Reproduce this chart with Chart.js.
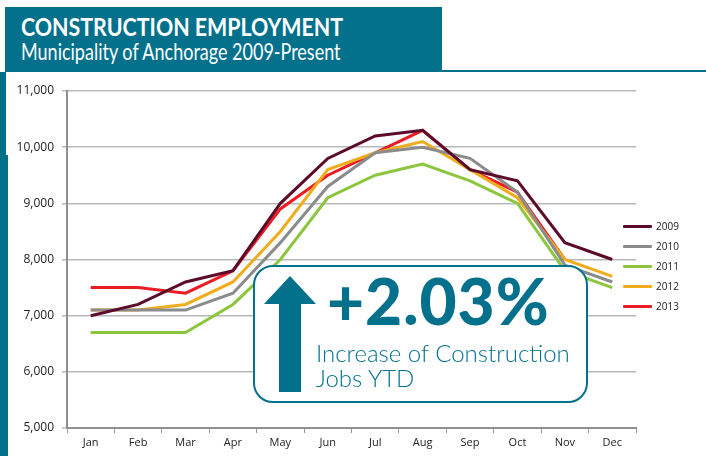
<!DOCTYPE html>
<html>
<head>
<meta charset="utf-8">
<script src="https://cdn.jsdelivr.net/npm/chart.js@4.4.0/dist/chart.umd.min.js"></script>
<style>
  html, body { margin: 0; padding: 0; background: #fff; }
  #wrap { position: relative; width: 706px; height: 456px; overflow: hidden; font-family: 'Open Sans', sans-serif; }
  #chart { position: absolute; left: 0; top: 0; }
  .teal { background: #03718c; position: absolute; }
  #title { position: absolute; left: 21px; top: 10px; color: #fff; font-family: Lato, sans-serif; font-weight: 700; font-size: 25px; line-height: 32px; transform: scaleX(0.855); transform-origin: left top; white-space: nowrap; }
  #subtitle { position: absolute; left: 21px; top: 38px; color: #fff; font-family: Lato, sans-serif; font-weight: 400; font-size: 22.5px; line-height: 28px; transform: scaleX(0.8); transform-origin: left top; white-space: nowrap; }
  #legend { position: absolute; left: 623px; top: 216px; }
  .lg { height: 20px; display: flex; align-items: center; font-family: 'Open Sans', sans-serif; font-size: 10px; color: #222; }
  .lg i { display: inline-block; width: 29px; height: 3px; margin-right: 4px; border-radius: 1px; }
  #callout { position: absolute; left: 253px; top: 265px; width: 331px; height: 134px; border: 2.5px solid #03718c; border-radius: 20px; background: #fff; }
  #callout svg { position: absolute; left: 9px; top: 9px; }
  #big { position: absolute; left: 72px; top: -6px; color: #03718c; font-family: Lato, sans-serif; font-weight: 900; font-size: 64px; line-height: 80px; letter-spacing: 1px; }
  #small { position: absolute; left: 61px; top: 73px; color: #03718c; font-family: Lato, sans-serif; font-weight: 300; font-size: 24px; line-height: 25px; }
</style>
</head>
<body>
<div id="wrap">
  <canvas id="chart" width="706" height="456"></canvas>
  <div class="teal" style="left:5px;top:7px;width:437px;height:64px"></div>
  <div class="teal" style="left:5px;top:70px;width:701px;height:2px"></div>
  <div class="teal" style="left:0;top:72px;width:6px;height:83px"></div>
  <div class="teal" style="left:0;top:155px;width:8px;height:301px"></div>
  <div id="title">CONSTRUCTION EMPLOYMENT</div>
  <div id="subtitle">Municipality of Anchorage 2009-Present</div>
  <div id="legend"></div>
  <div id="callout">
    <svg width="52" height="118" viewBox="0 0 52 118">
      <polygon points="26,0 52,28 37,28 37,116 15,116 15,28 0,28" fill="#03718c"/>
    </svg>
    <div id="big">+2.03%</div>
    <div id="small">Increase of Construction<br>Jobs YTD</div>
  </div>
</div>
<script>
// ── Data
const months = ['Jan', 'Feb', 'Mar', 'Apr', 'May', 'Jun', 'Jul', 'Aug', 'Sep', 'Oct', 'Nov', 'Dec'];
const years = ['2009', '2010', '2011', '2012', '2013'];
const jobs2009 = [7000, 7200, 7600, 7800, 9000, 9800, 10200, 10300, 9600, 9400, 8300, 8000];
const jobs2010 = [7100, 7100, 7100, 7400, 8300, 9300, 9900, 10000, 9800, 9200, 7900, 7600];
const jobs2011 = [6700, 6700, 6700, 7200, 8000, 9100, 9500, 9700, 9400, 9000, 7800, 7500];
const jobs2012 = [7100, 7100, 7200, 7600, 8500, 9600, 9900, 10100, 9600, 9100, 8000, 7700];
const jobs2013 = [7500, 7500, 7400, 7800, 8900, 9500, 9900, 10300, 9600, 9200, 8000, null];
const yTicks = [5000, 6000, 7000, 8000, 9000, 10000, 11000];

const series = [jobs2009, jobs2010, jobs2011, jobs2012, jobs2013];
const colors = ['#5c0b2b', '#8a8b8d', '#8cc63f', '#efad1d', '#ec1c24'];

// ── Legend
document.getElementById('legend').innerHTML = years.map((y, i) =>
  `<div class="lg"><i style="background:${colors[i]}"></i>${y}</div>`).join('');

// ── Chart
new Chart(document.getElementById('chart'), {
  type: 'line',
  data: {
    labels: months,
    datasets: years.map((y, i) => ({
      label: y,
      data: series[i],
      borderColor: colors[i],
      borderWidth: 3,
      pointRadius: 0,
      tension: 0,
      spanGaps: false,
    }))
  },
  options: {
    responsive: false,
    animation: false,
    layout: { padding: { top: 91, right: 70, left: 0, bottom: 0 } },
    plugins: { legend: { display: false }, tooltip: { enabled: false } },
    scales: {
      x: {
        offset: true,
        afterFit: s => { s.height = 28; },
        grid: { offset: true, drawOnChartArea: false, drawTicks: true, tickLength: 5, color: '#999', lineWidth: 1 },
        border: { color: '#8f8f8f', width: 2 },
        ticks: { color: '#222', font: { family: 'Open Sans', size: 11 }, padding: 3, maxRotation: 0 }
      },
      y: {
        min: 5000,
        max: 11000,
        afterFit: s => { s.width = 67; },
        afterBuildTicks: s => { s.ticks = yTicks.map(v => ({ value: v })); },
        grid: { color: '#b8b8b8', lineWidth: 1.5, tickLength: 5 },
        border: { color: '#8f8f8f', width: 2 },
        ticks: {
          color: '#222',
          font: { family: 'Open Sans', size: 12 },
          padding: 8,
          callback: v => v.toLocaleString('en-US')
        }
      }
    }
  }
});
</script>
</body>
</html>
